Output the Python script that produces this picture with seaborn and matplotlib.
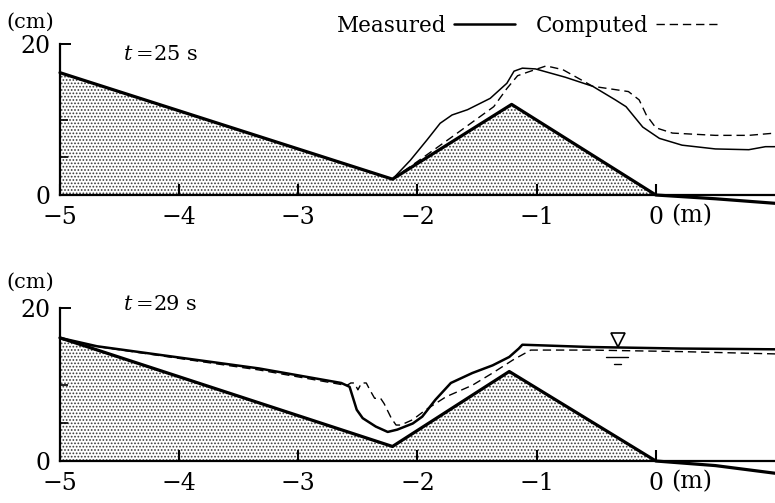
import numpy as np
import pandas as pd
import matplotlib
matplotlib.use("Agg")
import matplotlib.pyplot as plt
import seaborn as sns

# ---------------- data ----------------
# panel t = 25 s
bed25_x = [-5.0, -2.21, -1.21, 0.0, 0.5, 1.0]
bed25_y = [16.2, 2.1, 12.0, 0.0, -0.5, -1.1]
meas25_x = [-2.21, -2.06, -1.92, -1.81, -1.71, -1.58, -1.39, -1.25, -1.19, -1.12, -1.01,
            -0.76, -0.53, -0.34, -0.25, -0.11, 0.03, 0.22, 0.50, 0.78, 0.92, 1.0]
meas25_y = [2.1, 4.6, 7.3, 9.5, 10.6, 11.3, 12.8, 14.8, 16.4, 16.8, 16.7,
            15.6, 14.4, 12.6, 11.7, 9.0, 7.5, 6.6, 6.1, 6.0, 6.4, 6.4]
comp25_x = [-2.21, -1.95, -1.71, -1.36, -1.25, -1.16, -1.07, -0.92, -0.78, -0.53,
            -0.23, -0.14, -0.08, 0.0, 0.14, 0.50, 0.78, 1.0]
comp25_y = [2.1, 5.0, 7.7, 11.7, 14.1, 15.8, 16.3, 17.1, 16.6, 14.4,
            13.7, 12.6, 10.6, 8.9, 8.2, 7.9, 7.9, 8.2]

# panel t = 29 s
bed29_x = [-5.0, -2.21, -1.23, 0.0, 0.5, 1.0]
bed29_y = [16.1, 1.9, 11.7, 0.0, -0.6, -1.6]
meas29_x = [-5.0, -4.69, -3.33, -2.64, -2.57, -2.51, -2.46, -2.35, -2.25, -2.17, -2.04,
            -1.96, -1.85, -1.72, -1.54, -1.37, -1.23, -1.15, -1.12, -0.55, 0.21, 1.0]
meas29_y = [16.1, 15.0, 12.1, 10.2, 9.7, 6.7, 5.6, 4.5, 3.8, 4.1, 4.9,
            5.8, 8.0, 10.2, 11.5, 12.5, 13.6, 14.7, 15.2, 14.9, 14.7, 14.6]
comp29_x = [-5.0, -4.75, -3.33, -2.64, -2.59, -2.56, -2.53, -2.50, -2.47, -2.43, -2.40,
            -2.36, -2.31, -2.28, -2.22, -2.18, -2.14, -2.04, -1.93, -1.76, -1.54, -1.37,
            -1.20, -1.05, -0.55, 0.21, 1.0]
comp29_y = [16.1, 15.1, 11.9, 10.0, 9.9, 10.2, 10.2, 9.3, 10.2, 10.2, 9.3,
            8.2, 8.2, 7.5, 5.6, 4.7, 4.7, 5.4, 6.7, 8.4, 9.9, 11.5,
            13.2, 14.5, 14.5, 14.3, 14.0]

# water-level symbol (t = 29 s)
wl_x = -0.32
wl_y = 15.8
wl_bar1_x = [-0.42, -0.23]
wl_bar1_y = [13.6, 13.6]
wl_bar2_x = [-0.35, -0.29]
wl_bar2_y = [12.7, 12.7]

xticks = [-5, -4, -3, -2, -1, 0]
xticklabels = ["\u22125", "\u22124", "\u22123", "\u22122", "\u22121", "0"]
yticks = [0, 20]
yticklabels = ["0", "20"]
yminor = [5, 10]
titles = ["$t$\u2009=25 s", "$t$\u2009=29 s"]

# ---------------- style ----------------
sns.set_theme(style="ticks", rc={
    "axes.edgecolor": "black", "xtick.color": "black", "ytick.color": "black",
    "text.color": "black", "axes.labelcolor": "black", "hatch.color": "#3a3a3a",
    "hatch.linewidth": 0.8, "axes.axisbelow": False,
})
plt.rcParams["font.family"] = ["DejaVu Serif"]
plt.rcParams["mathtext.fontset"] = "dejavuserif"

W, H = 775, 503
fig = plt.figure(figsize=(W / 100, H / 100), dpi=100)

ylo, yhi = 0.0, 21.5
# axes placement: (pixel of y=0, pixels per cm)
specs = [(195.0, 7.55), (461.0, 7.65)]
axes = []
for y0px, s in specs:
    bot_px = y0px - ylo * s
    top_px = y0px - yhi * s
    ax = fig.add_axes([60 / W, 1 - bot_px / H, 715 / W, (bot_px - top_px) / H])
    axes.append(ax)

panels = [
    (bed25_x, bed25_y, meas25_x, meas25_y, comp25_x, comp25_y, titles[0], 18.6, 22.9),
    (bed29_x, bed29_y, meas29_x, meas29_y, comp29_x, comp29_y, titles[1], 20.4, 23.3),
]

handles = None
for ax, (bx, by, mx, my, cx, cy, title, ty, cmy) in zip(axes, panels):
    bx_a = np.asarray(bx)
    by_a = np.asarray(by)
    ax.fill_between(bx_a, by_a, 0, where=by_a >= 0, interpolate=True,
                    facecolor="white", hatch=".....", edgecolor="#3a3a3a",
                    linewidth=0, zorder=1)
    sns.lineplot(x=bx, y=by, ax=ax, sort=False, estimator=None, color="black",
                 linewidth=2.3, clip_on=False, zorder=4)
    sns.lineplot(x=mx, y=my, ax=ax, sort=False, estimator=None, color="black",
                 linewidth=1.1, clip_on=False, zorder=3, label="Measured")
    sns.lineplot(x=cx, y=cy, ax=ax, sort=False, estimator=None, color="black",
                 linewidth=1.0, linestyle=(0, (6, 3.5)), clip_on=False, zorder=3,
                 label="Computed")
    h, l = ax.get_legend_handles_labels()
    handles = h
    ax.get_legend().remove()

    ax.set_xlim(-5, 1.0)
    ax.set_ylim(ylo, yhi)
    ax.spines["top"].set_visible(False)
    ax.spines["right"].set_visible(False)
    ax.spines["left"].set_bounds(0, 20)
    ax.spines["left"].set_linewidth(1.6)
    ax.spines["bottom"].set_linewidth(1.6)

    ax.set_xticks(xticks)
    ax.set_xticklabels(xticklabels)
    ax.set_yticks(yticks)
    ax.set_yticklabels(yticklabels)
    ax.set_yticks(yminor, minor=True)
    ax.xaxis.set_ticks_position("bottom")
    ax.yaxis.set_ticks_position("left")
    ax.tick_params(axis="x", which="major", direction="in", length=8, width=1.5,
                   pad=8, labelsize=17, bottom=True, top=False)
    ax.tick_params(axis="y", which="major", direction="in", length=8, width=1.4,
                   pad=7, labelsize=17, left=True, right=False)
    ax.tick_params(axis="y", which="minor", direction="in", length=6, width=1.2,
                   left=True, right=False)
    ax.set_xlabel("")
    ax.set_ylabel("")

    ax.text(-5.25, cmy, "(cm)", ha="center", va="center", fontsize=15, clip_on=False)
    ax.text(-4.16, ty, title, ha="center", va="center", fontsize=15)
    ax.text(0.125, -2.7, "(m)", ha="left", va="center", fontsize=17, clip_on=False)

# water level mark on the lower panel
axb = axes[1]
axb.plot([wl_x], [wl_y], marker="v", ms=10, mfc="white", mec="black", mew=1.2,
         linestyle="none", zorder=6)
axb.plot(wl_bar1_x, wl_bar1_y, color="black", lw=1.0)
axb.plot(wl_bar2_x, wl_bar2_y, color="black", lw=1.0)

handles[0].set_linewidth(1.8)
fig.legend(handles, ["Measured", "Computed"], ncol=2, markerfirst=False,
           frameon=False, loc="center", bbox_to_anchor=(527 / W, 1 - 26 / H),
           fontsize=15.5, handlelength=2.8, handletextpad=0.35,
           columnspacing=1.0)

fig.savefig("out.png", dpi=100)
